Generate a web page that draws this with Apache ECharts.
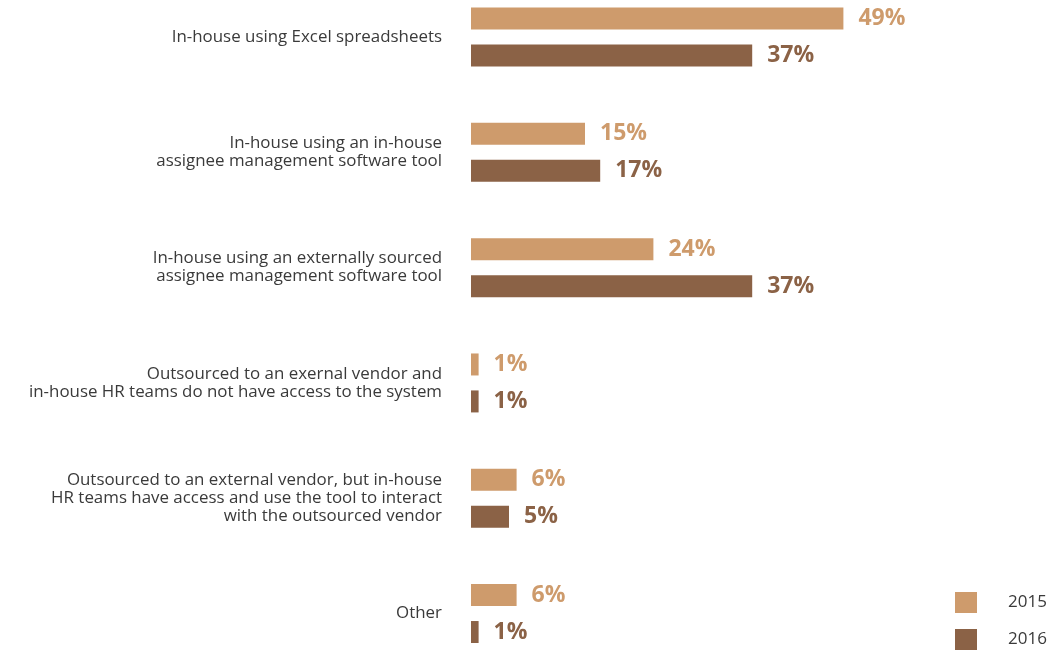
<!DOCTYPE html>
<html>
<head>
<meta charset="utf-8">
<script src="https://cdn.jsdelivr.net/npm/echarts@6/dist/echarts.min.js"></script>
<style>
  html, body { margin: 0; padding: 0; background: #fff; }
  #chart { width: 1056px; height: 652px; }
</style>
</head>
<body>
<div id="chart"></div>
<script>
// Answer categories, top to bottom
const categories = [
  'In-house using Excel spreadsheets',
  'In-house using an in-house\nassignee management software tool',
  'In-house using an externally sourced\nassignee management software tool',
  'Outsourced to an exernal vendor and\nin-house HR teams do not have access to the system',
  'Outsourced to an external vendor, but in-house\nHR teams have access and use the tool to interact\nwith the outsourced vendor',
  'Other'
];
// Share of respondents (%) per year
const years = ['2015', '2016'];
const values2015 = [49, 15, 24, 1, 6, 6];
const values2016 = [37, 17, 37, 1, 5, 1];

const colors = { '2015': '#CE9B6C', '2016': '#8B6246' };
const font = '"Open Sans", "Noto Sans", sans-serif';

function barSeries(name, data) {
  return {
    name: name,
    type: 'bar',
    data: data,
    barWidth: 22,
    barGap: '68%',
    itemStyle: { color: colors[name] },
    label: {
      show: true,
      position: 'right',
      distance: 15,
      formatter: '{c}%',
      color: colors[name],
      fontFamily: font,
      fontWeight: 'bold',
      fontSize: 23
    }
  };
}

const chart = echarts.init(document.getElementById('chart'), null, { renderer: 'canvas' });
chart.setOption({
  animation: false,
  backgroundColor: '#ffffff',
  grid: {
    left: 471, top: -20.6, width: 532, height: 691.8,
    containLabel: false,
    outerBoundsMode: 'none'
  },
  xAxis: {
    type: 'value', min: 0, max: 70,
    show: false
  },
  yAxis: {
    type: 'category',
    data: categories,
    inverse: true,
    axisLine: { show: false },
    axisTick: { show: false },
    splitLine: { show: false },
    axisLabel: {
      margin: 29,
      color: '#3a3a3a',
      fontFamily: font,
      fontSize: 16.9,
      lineHeight: 18,
      align: 'right'
    }
  },
  legend: {
    data: years,
    orient: 'vertical',
    left: 955,
    top: 592,
    padding: 0,
    icon: 'rect',
    itemWidth: 22,
    itemHeight: 21,
    itemGap: 16,
    textStyle: {
      color: '#3a3a3a',
      fontFamily: font,
      fontSize: 17,
      padding: [0, 0, 0, 26]
    }
  },
  series: [barSeries('2015', values2015), barSeries('2016', values2016)]
});
</script>
</body>
</html>
